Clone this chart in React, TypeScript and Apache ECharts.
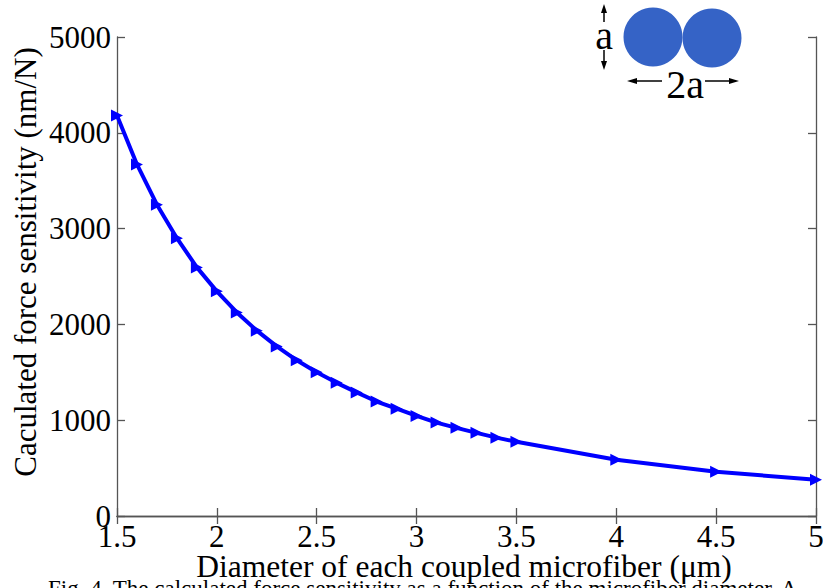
import React, { useEffect, useRef } from "react";
import * as echarts from "echarts";

const diameters = [1.5, 1.6, 1.7, 1.8, 1.9, 2.0, 2.1, 2.2, 2.3, 2.4, 2.5, 2.6, 2.7, 2.8, 2.9, 3.0, 3.1, 3.2, 3.3, 3.4, 3.5, 4.0, 4.5, 5.0];
const sensitivity = [4180, 3670, 3250, 2900, 2595, 2345, 2125, 1935, 1770, 1625, 1500, 1390, 1290, 1195, 1120, 1045, 975, 920, 868, 818, 775, 588, 462, 378];
const xTicks = [1.5, 2, 2.5, 3, 3.5, 4, 4.5, 5];
const yTicks = [0, 1000, 2000, 3000, 4000, 5000];

const FONT = "'Liberation Serif', 'Times New Roman', serif";

export default function App() {
  const ref = useRef<HTMLDivElement>(null);
  useEffect(() => {
    if (!ref.current) return;
    const chart = echarts.init(ref.current, null, { renderer: "svg" });
    const axisColor = "#555";
    const baseX = {
      type: "value",
      min: xTicks[0],
      max: xTicks[xTicks.length - 1],
      interval: 0.5,
      splitLine: { show: false },
      axisLine: { show: true, lineStyle: { color: axisColor, width: 1.3 } },
      axisTick: { show: true, inside: true, length: 8, lineStyle: { color: axisColor, width: 1.3 } },
    };
    const baseY = {
      type: "value",
      min: yTicks[0],
      max: yTicks[yTicks.length - 1],
      interval: 1000,
      splitLine: { show: false },
      axisLine: { show: true, lineStyle: { color: axisColor, width: 1.3 } },
      axisTick: { show: true, inside: true, length: 8, lineStyle: { color: axisColor, width: 1.3 } },
    };
    chart.setOption({
      animation: false,
      backgroundColor: "#fff",
      grid: { left: 117, right: 7, top: 37, bottom: 72, containLabel: false, outerBoundsMode: "none" },
      xAxis: [
        {
          ...baseX,
          position: "bottom",
          axisLabel: {
            show: true,
            margin: 5,
            fontFamily: FONT,
            fontSize: 31,
            color: "#000",
            formatter: (v: number) => String(v),
          },
        },
        { ...baseX, position: "top", axisLabel: { show: false } },
      ],
      yAxis: [
        {
          ...baseY,
          position: "left",
          axisLabel: {
            show: true,
            margin: 6,
            fontFamily: FONT,
            fontSize: 31,
            color: "#000",
            formatter: (v: number) => String(v),
          },
        },
        { ...baseY, position: "right", axisLabel: { show: false } },
      ],
      series: [
        {
          type: "line",
          data: diameters.map((d, i) => [d, sensitivity[i]]),
          symbol: "triangle",
          symbolRotate: -90,
          symbolSize: 12,
          color: "#0000ff",
          lineStyle: { color: "#0000ff", width: 4 },
          itemStyle: { color: "#0000ff" },
          z: 3,
        },
      ],
      graphic: [
        {
          type: "text", z: 50, x: 25, y: 262, rotation: Math.PI / 2,
          style: {
            text: "Caculated force sensitivity (nm/N)",
            font: `31px ${FONT}`, fill: "#000", align: "center", verticalAlign: "middle",
          },
        },
        {
          type: "text", z: 50, x: 464, y: 566,
          style: {
            text: "Diameter of each coupled microfiber (\u03bcm)",
            font: `31.5px ${FONT}`, fill: "#000", align: "center", verticalAlign: "middle",
          },
        },
        { type: "rect", z: 100, shape: { x: 586, y: 0, width: 190, height: 100 }, style: { fill: "#fff" } },
        { type: "circle", z: 101, shape: { cx: 653, cy: 37, r: 29.5 }, style: { fill: "#3563c6" } },
        { type: "circle", z: 101, shape: { cx: 712, cy: 38, r: 29.5 }, style: { fill: "#3563c6" } },
        {
          type: "text", z: 101, x: 604, y: 35,
          style: { text: "a", font: `40px ${FONT}`, fill: "#000", align: "center", verticalAlign: "middle" },
        },
        { type: "line", z: 101, shape: { x1: 604, y1: 8, x2: 604, y2: 22 }, style: { stroke: "#000", lineWidth: 1.5 } },
        { type: "polygon", z: 101, shape: { points: [[604, 4], [601, 13], [607, 13]] }, style: { fill: "#000" } },
        { type: "line", z: 101, shape: { x1: 604, y1: 50, x2: 604, y2: 66 }, style: { stroke: "#000", lineWidth: 1.5 } },
        { type: "polygon", z: 101, shape: { points: [[604, 70], [601, 61], [607, 61]] }, style: { fill: "#000" } },
        {
          type: "text", z: 101, x: 685, y: 84,
          style: { text: "2a", font: `40px ${FONT}`, fill: "#000", align: "center", verticalAlign: "middle" },
        },
        { type: "line", z: 101, shape: { x1: 631, y1: 81, x2: 662, y2: 81 }, style: { stroke: "#000", lineWidth: 1.5 } },
        { type: "polygon", z: 101, shape: { points: [[627, 81], [637, 78], [637, 84]] }, style: { fill: "#000" } },
        { type: "line", z: 101, shape: { x1: 705, y1: 81, x2: 734, y2: 81 }, style: { stroke: "#000", lineWidth: 1.5 } },
        { type: "polygon", z: 101, shape: { points: [[739, 81], [729, 78], [729, 84]] }, style: { fill: "#000" } },
        {
          type: "text", z: 40, x: 48, y: 577,
          style: {
            text: "Fig. 4. The calculated force sensitivity as a function of the microfiber diameter. A",
            font: `23px ${FONT}`, fill: "#000", align: "left", verticalAlign: "top",
          },
        },
      ],
    });
    return () => chart.dispose();
  }, []);
  return (
    <div
      ref={ref}
      style={{ position: "absolute", left: 0, top: 0, width: 823, height: 588 }}
    />
  );
}
